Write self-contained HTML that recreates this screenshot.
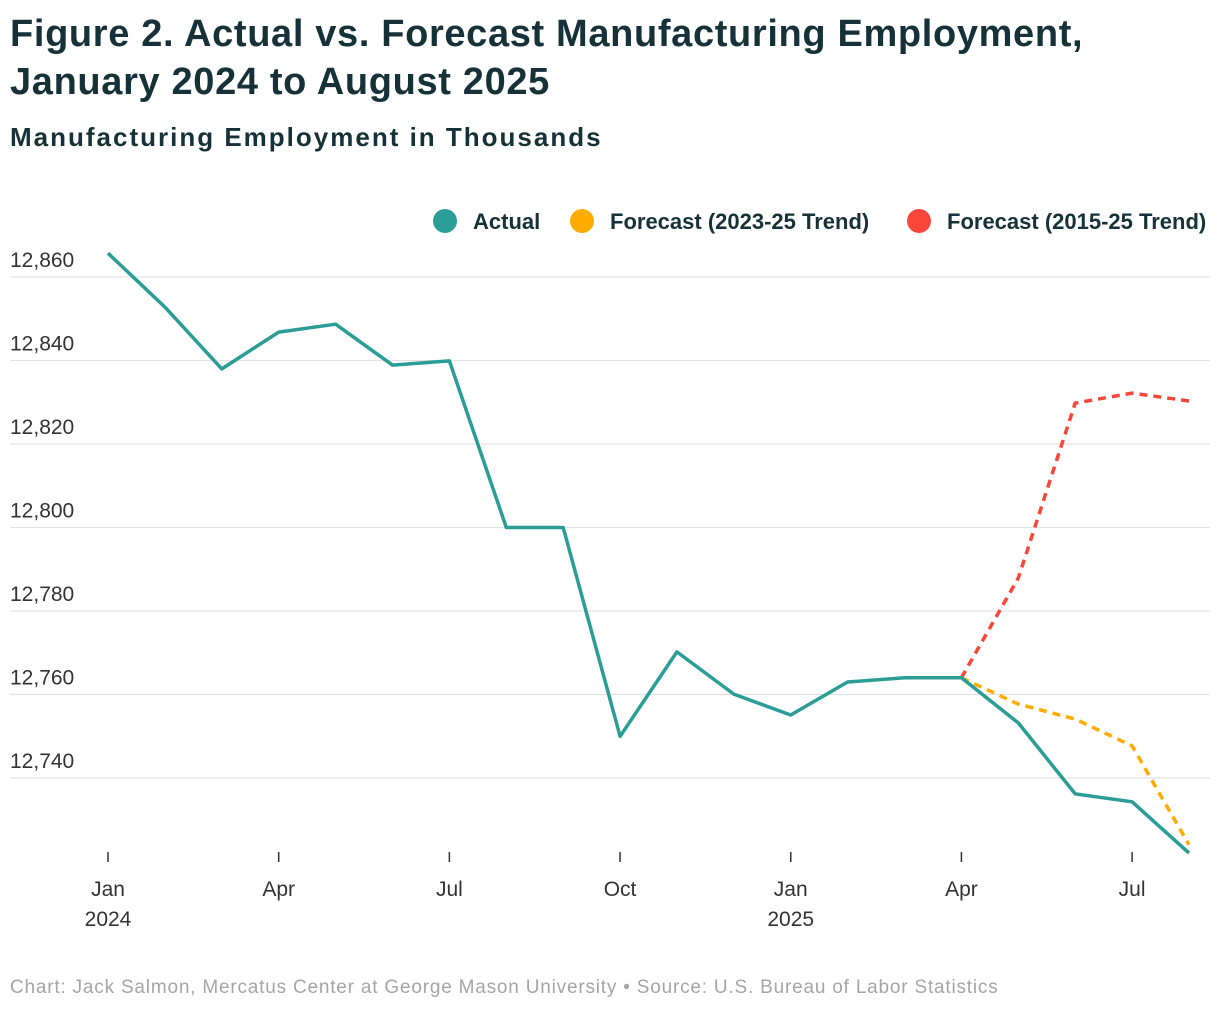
<!DOCTYPE html>
<html><head><meta charset="utf-8"><style>
body{margin:0;background:#fff;width:1220px;height:1014px;overflow:hidden;font-family:"Liberation Sans",sans-serif;color:#163238}
h1{position:absolute;left:10px;top:10px;margin:0;font-size:38px;line-height:48px;font-weight:bold;width:1200px;letter-spacing:0.65px}
h2{position:absolute;left:10px;top:122px;margin:0;font-size:26px;font-weight:bold;letter-spacing:2px}
.foot{position:absolute;left:10px;top:977px;font-size:19px;color:#a5a5a5;letter-spacing:0.8px}
svg{position:absolute;left:0;top:0}
</style></head><body>
<h1>Figure 2. Actual vs. Forecast Manufacturing Employment, January 2024 to August 2025</h1>
<h2>Manufacturing Employment in Thousands</h2>
<svg id="c" width="1220" height="1014"></svg>
<div class="foot">Chart: Jack Salmon, Mercatus Center at George Mason University • Source: U.S. Bureau of Labor Statistics</div>
<script>
const months=["Jan 2024","Feb","Mar","Apr","May","Jun","Jul","Aug","Sep","Oct","Nov","Dec","Jan 2025","Feb","Mar","Apr","May","Jun","Jul","Aug"];
const actual=[12865.7,12852.8,12838,12846.8,12848.7,12838.9,12839.9,12800,12800,12750,12770.2,12760.1,12755.1,12763,12764,12764,12753.2,12736.2,12734.3,12722];
const fc2023=[null,null,null,null,null,null,null,null,null,null,null,null,null,null,null,12764,12757.7,12754.1,12747.7,12724];
const fc2015=[null,null,null,null,null,null,null,null,null,null,null,null,null,null,null,12764,12787.9,12829.8,12832.2,12830.3];
const yTicks=[12740,12760,12780,12800,12820,12840,12860];
const xTickIdx=[0,3,6,9,12,15,18];
const xTickLabels=[["Jan","2024"],["Apr"],["Jul"],["Oct"],["Jan","2025"],["Apr"],["Jul"]];
const NS="http://www.w3.org/2000/svg",svg=document.getElementById('c');
const x=i=>108+i*(1189-108)/19;
const y=v=>778-(v-12740)*4.175;
function mk(t,a,p){const e=document.createElementNS(NS,t);for(const k in a)e.setAttribute(k,a[k]);(p||svg).appendChild(e);return e;}
yTicks.forEach(v=>{
 const g=mk('line',{x1:10,x2:1210,y1:y(v),y2:y(v),stroke:'#e3e3e3','stroke-width':1.2});
 
 
 const t=mk('text',{x:10,y:y(v)-10,'font-size':21,fill:'#333'});t.textContent=v.toLocaleString('en-US');
 
 
});
xTickIdx.forEach((i,k)=>{
 const l=mk('line',{x1:x(i),x2:x(i),y1:852,y2:862,stroke:'#333','stroke-width':1.5});
 
 
 xTickLabels[k].forEach((s,j)=>{const t=mk('text',{x:x(i),y:896+j*30,'font-size':21,fill:'#333','text-anchor':'middle'});t.textContent=s;
 
 });
});
function line(data,color,dash,name){
 const pts=[];data.forEach((v,i)=>{if(v!=null)pts.push(x(i).toFixed(1)+','+y(v).toFixed(1));});
 const p=mk('polyline',{points:pts.join(' '),fill:'none',stroke:color,'stroke-width':3.5,'stroke-linejoin':'round','stroke-dasharray':dash||'none'});
 
 
}
line(fc2015,'#f8473a','8 6','line-forecast-2015-25');
line(fc2023,'#ffab00','8 6','line-forecast-2023-25');
line(actual,'#2a9d96',null,'line-actual');
const leg=[["Actual","#2a9d96",433],["Forecast (2023-25 Trend)","#ffab00",570],["Forecast (2015-25 Trend)","#f8473a",907]];
leg.forEach(([s,c,lx])=>{
 const g=mk('g',{});
 
 
 mk('circle',{cx:lx+12,cy:221,r:12,fill:c},g);
 const t=mk('text',{x:lx+40,y:229,'font-size':22,fill:'#163238','font-weight':'bold'},g);t.textContent=s;
});
</script>
</body></html>
